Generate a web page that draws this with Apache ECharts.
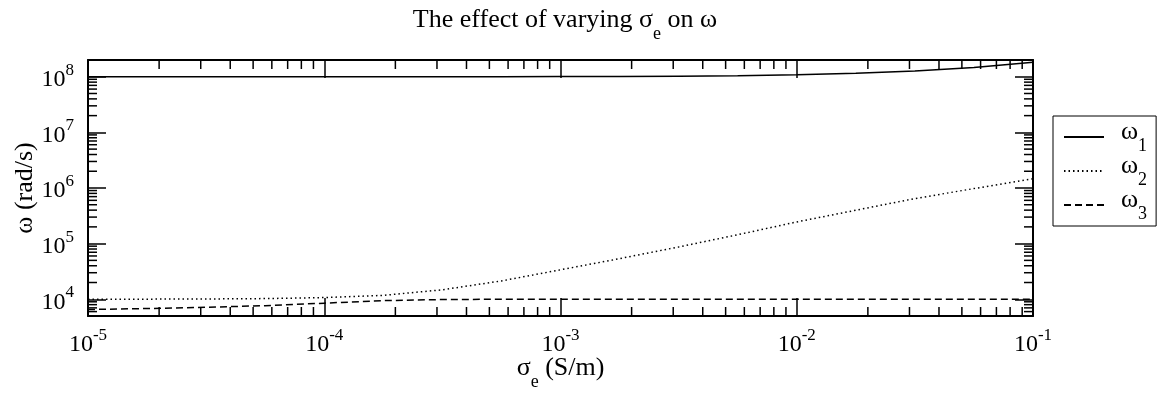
<!DOCTYPE html>
<html>
<head>
<meta charset="utf-8">
<script src="https://cdn.jsdelivr.net/npm/echarts@6/dist/echarts.min.js"></script>
<style>
html, body { margin: 0; padding: 0; background: #fff; }
#chart { width: 1157px; height: 400px; }
</style>
</head>
<body>
<div id="chart"></div>
<script>
// sigma_e sample points (quarter decades)
var sigma = [1e-5, 1.778e-5, 3.162e-5, 5.623e-5, 1e-4, 1.778e-4, 3.162e-4, 5.623e-4,
             1e-3, 1.778e-3, 3.162e-3, 5.623e-3, 1e-2, 1.778e-2, 3.162e-2, 5.623e-2, 1e-1];
var omega1 = [1.0000e8, 1.0001e8, 1.0003e8, 1.0005e8, 1.0008e8, 1.0015e8, 1.0026e8, 1.0046e8,
              1.0082e8, 1.0146e8, 1.0260e8, 1.0460e8, 1.0830e8, 1.1500e8, 1.2700e8, 1.4700e8, 1.8200e8];
var omega2 = [10000, 10046, 10116, 10280, 10715, 11750, 14790, 21380,
              33880, 53700, 87100, 144500, 245500, 398100, 645700, 977200, 1462000];
var omega3 = [6531, 6808, 7161, 7674, 8511, 9441, 9886, 10000,
              10000, 10000, 10000, 10000, 10000, 10000, 10000, 10000, 10000];
// minor tick values
var xMinorTicks = [];
var yMinorTicks = [6000, 7000, 8000, 9000];
[1e-5, 1e-4, 1e-3, 1e-2].forEach(function (d) {
	for (var k = 2; k <= 9; k++) xMinorTicks.push(k * d);
});
[1e4, 1e5, 1e6, 1e7].forEach(function (d) {
	for (var k = 2; k <= 9; k++) yMinorTicks.push(k * d);
});

var FONT = 'Liberation Serif';

function powLabel(v) {
	var e = Math.log10(v);
	var r = Math.round(e);
	if (Math.abs(e - r) > 1e-6) return '';
	return '{b|10}{s|' + r + '}';
}
var labelRich = {
	b: { fontFamily: FONT, fontSize: 24, color: '#000', padding: [6, 0, 0, 0] },
	s: { fontFamily: FONT, fontSize: 17, color: '#000', verticalAlign: 'top' }
};
// base text with a subscript token
var subRich = {
	b: { fontFamily: FONT, fontSize: 26, color: '#000', padding: [0, 0, 10, 0] },
	s: { fontFamily: FONT, fontSize: 18, color: '#000', verticalAlign: 'bottom' }
};

function frameAxis(pos) {
	return {
		type: 'log',
		position: pos,
		axisLine: { show: true, onZero: false, lineStyle: { color: '#000', width: 2 } },
		axisTick: { show: true, inside: true, length: 18, lineStyle: { color: '#000', width: 1.5 } },
		splitLine: { show: false },
		minorTick: { show: false }
	};
}

var chart = echarts.init(document.getElementById('chart'));

var xBottom = frameAxis('bottom');
xBottom.min = 1e-5; xBottom.max = 1e-1;
xBottom.axisLabel = { formatter: powLabel, rich: labelRich, margin: 11 };
xBottom.name = '{b|σ}{s|e}{b| (S/m)}';
xBottom.nameLocation = 'middle';
xBottom.nameGap = 39;
xBottom.nameMoveOverlap = false;
xBottom.nameTextStyle = { rich: subRich };
var xTop = frameAxis('top');
xTop.min = 1e-5; xTop.max = 1e-1;
xTop.axisLabel = { show: false };

var yLeft = frameAxis('left');
yLeft.min = 5000; yLeft.max = 2e8;
yLeft.axisLabel = { formatter: powLabel, rich: labelRich, margin: 14 };
yLeft.name = 'ω (rad/s)';
yLeft.nameLocation = 'middle';
yLeft.nameGap = 50;
yLeft.nameMoveOverlap = false;
yLeft.nameTextStyle = { fontFamily: FONT, fontSize: 26, color: '#000' };
var yRight = frameAxis('right');
yRight.min = 5000; yRight.max = 2e8;
yRight.axisLabel = { show: false };

function lineSeries(name, data, dash) {
	return {
		name: name,
		type: 'line',
		symbol: 'none',
		data: sigma.map(function (s, i) { return [s, data[i]]; }),
		lineStyle: { color: '#000', width: 1.5, type: dash },
		itemStyle: { color: '#000' }
	};
}

var option = {
	animation: false,
	backgroundColor: '#fff',
	title: {
		text: '{b|The effect of varying σ}{s|e}{b| on ω}',
		left: 560,
		textAlign: 'center',
		top: 2,
		textStyle: {
			fontFamily: FONT, fontSize: 26, fontWeight: 'normal', color: '#000',
			rich: subRich
		}
	},
	legend: {
		data: ['ω1', 'ω2', 'ω3'],
		orient: 'vertical',
		left: 1053,
		top: 116,
		padding: [3, 9, 3, 10],
		itemGap: -2,
		itemWidth: 40,
		itemHeight: 14,
		borderColor: '#000',
		borderWidth: 1,
		borderRadius: 0,
		itemStyle: { opacity: 0 },
		formatter: function (name) {
			return '{b|ω}{s|' + name.slice(1) + '}';
		},
		textStyle: {
			rich: {
				b: { fontFamily: FONT, fontSize: 26, color: '#000', padding: [0, 0, 10, 12] },
				s: { fontFamily: FONT, fontSize: 18, color: '#000', verticalAlign: 'bottom' }
			}
		}
	},
	grid: { left: 88, right: 124, top: 60, bottom: 84, outerBoundsMode: 'none' },
	xAxis: [xBottom, xTop],
	yAxis: [yLeft, yRight],
	series: [
		lineSeries('ω1', omega1, 'solid'),
		lineSeries('ω2', omega2, [1.5, 3]),
		lineSeries('ω3', omega3, [7, 4]),
		{
			type: 'custom',
			silent: true,
			data: xMinorTicks.map(function (v) { return [v, 1e4]; }),
			renderItem: function (params, api) {
				var cs = params.coordSys;
				var px = api.coord([api.value(0), api.value(1)])[0];
				var st = { stroke: '#000', lineWidth: 1.5 };
				return { type: 'group', children: [
					{ type: 'line', shape: { x1: px, y1: cs.y + cs.height, x2: px, y2: cs.y + cs.height - 9 }, style: st },
					{ type: 'line', shape: { x1: px, y1: cs.y, x2: px, y2: cs.y + 9 }, style: st }
				] };
			}
		},
		{
			type: 'custom',
			silent: true,
			data: yMinorTicks.map(function (v) { return [1e-3, v]; }),
			renderItem: function (params, api) {
				var cs = params.coordSys;
				var py = api.coord([api.value(0), api.value(1)])[1];
				var st = { stroke: '#000', lineWidth: 1.5 };
				return { type: 'group', children: [
					{ type: 'line', shape: { x1: cs.x, y1: py, x2: cs.x + 9, y2: py }, style: st },
					{ type: 'line', shape: { x1: cs.x + cs.width, y1: py, x2: cs.x + cs.width - 9, y2: py }, style: st }
				] };
			}
		}
	]
};
chart.setOption(option);
</script>
</body>
</html>
